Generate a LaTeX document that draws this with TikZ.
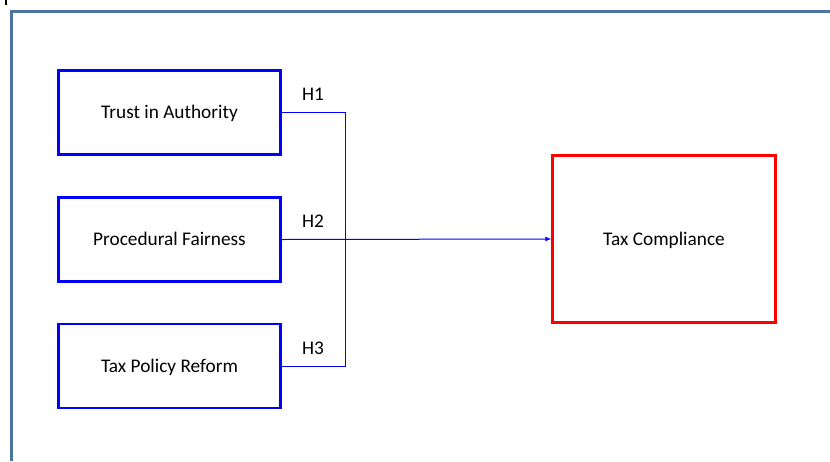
\documentclass[tikz,border=0pt]{standalone}
\usepackage{fontspec}
\setmainfont{Carlito}
\usetikzlibrary{arrows.meta}
\definecolor{frameblue}{HTML}{4A76A6}
\definecolor{boxblue}{HTML}{0000FF}
\definecolor{boxred}{HTML}{FF0000}
\begin{document}
\begin{tikzpicture}[x=1pt,y=-1pt,
  srcbox/.style={draw=boxblue,line width=2.4pt,minimum width=222pt,minimum height=84pt,inner sep=0pt,text height=12.5pt,text depth=0pt,font=\fontsize{19.3}{22}\selectfont},
  tgtbox/.style={draw=boxred,line width=2.4pt,minimum width=223pt,minimum height=167pt,inner sep=0pt,text height=12.5pt,text depth=0pt,font=\fontsize{19.3}{22}\selectfont},
  link/.style={draw=boxblue,line width=1pt},
  hlab/.style={font=\fontsize{19.3}{22}\selectfont,text height=12.5pt,text depth=0pt,inner sep=0pt}]
\useasboundingbox (0,0) rectangle (830,461);
\fill[white] (0,0) rectangle (830,461);
% frame
\draw[frameblue,line width=3pt] (11,461) -- (11,11.5) -- (830,11.5);
\draw[black,line width=2pt] (6,0) -- (6,5);
% boxes
\node[srcbox] (trust) at (169.5,112.5) {Trust in Authority};
\node[srcbox] (proc) at (169.5,239.5) {Procedural Fairness};
\node[srcbox] (policy) at (169.5,366) {Tax Policy Reform};
\node[tgtbox] (tc) at (664,239) {Tax Compliance};
% connectors
\coordinate (jt) at (345,112.5);
\coordinate (jb) at (345,366);
\draw[link] (trust.east) -- (jt) -- (jb) -- (policy.east);
\draw[link,-{Latex[length=6pt,width=5pt]}] (proc.east) -- (tc.west);
% labels
\node[hlab] (h1) at (313,94) {H1};
\node[hlab] (h2) at (313,221) {H2};
\node[hlab] (h3) at (313,348) {H3};
\end{tikzpicture}
\end{document}
